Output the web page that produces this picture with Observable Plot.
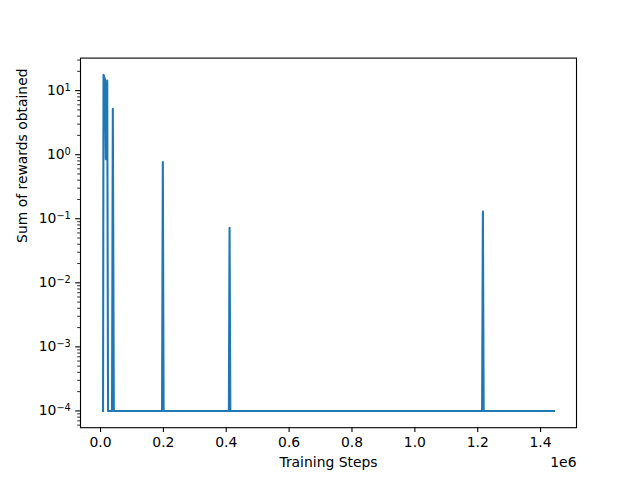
<!DOCTYPE html>
<html><head><meta charset="utf-8">
<script src="https://cdn.jsdelivr.net/npm/d3@7"></script>
<script src="https://cdn.jsdelivr.net/npm/@observablehq/plot@0.6"></script>
<style>body{margin:0;background:#fff} svg{display:block}</style>
</head><body><div id="chart"></div>
<script>
// Training step at each logged point
const steps = [8000, 9500, 14300, 16900, 21300, 23900, 36600, 39100, 42300,
  195700, 198200, 200700, 408300, 410500, 413000, 1214000, 1216500, 1219000, 1442600];
// Sum of rewards obtained at each logged point
const rewards = [1e-4, 17.6, 15, 0.85, 14.4, 1e-4, 1e-4, 5.2, 1e-4,
  1e-4, 0.77, 1e-4, 1e-4, 0.072, 1e-4, 1e-4, 0.13, 1e-4, 1e-4];
const xTicks = [0, 200000, 400000, 600000, 800000, 1000000, 1200000, 1400000];
const yTicks = [1e-4, 1e-3, 1e-2, 1e-1, 1, 10];
const xLabel = "Training Steps";
const yLabel = "Sum of rewards obtained";
const xOffsetText = "1e6";

const data = steps.map((s, i) => ({step: s, reward: rewards[i]}));
const yDomain = [5.47e-5, 32.2];
const yMinor = [];
for (let k = -5; k <= 1; k++) for (let m = 2; m <= 9; m++) {
  const v = m * Math.pow(10, k);
  if (v >= yDomain[0] && v <= yDomain[1]) yMinor.push(v);
}
const font = "DejaVu Sans, sans-serif";
const fs = 13.9;

const svg = Plot.plot({
  width: 640, height: 480,
  marginLeft: 80, marginRight: 64, marginTop: 57.6, marginBottom: 52.8,
  style: {fontFamily: font, fontSize: fs + "px", background: "#fff", color: "#000"},
  x: {domain: [-63730, 1514330]},
  y: {type: "log", domain: yDomain},
  marks: [
    Plot.line(data, {x: "step", y: "reward", stroke: "#1f77b4", strokeWidth: 2.08, strokeLinejoin: "round", strokeLinecap: "square"}),
    Plot.frame({stroke: "#000", strokeWidth: 1.1}),
    Plot.axisX({ticks: xTicks, tickSize: 4.86, tickPadding: 4.86, strokeWidth: 1.1, label: null,
      tickFormat: d => (d / 1e6).toFixed(1), fontSize: fs}),
    Plot.axisY({ticks: yMinor, tickSize: 2.78, strokeWidth: 0.83, text: null, label: null}),
    Plot.axisY({ticks: yTicks, tickSize: 4.86, tickPadding: 4.86, strokeWidth: 1.1, label: null,
      tickFormat: d => "10^" + Math.round(Math.log10(d)), fontSize: fs}),
    Plot.text([xLabel], {frameAnchor: "bottom", dy: 35, lineAnchor: "middle", fontSize: fs, fill: "#000"}),
    Plot.text([xOffsetText], {frameAnchor: "bottom-right", dy: 35, textAnchor: "end", lineAnchor: "middle", fontSize: fs, fill: "#000"}),
    Plot.text([yLabel], {frameAnchor: "left", dx: -58, rotate: -90, lineAnchor: "middle", fontSize: fs, fill: "#000"})
  ]
});

d3.select(svg).selectAll('g[aria-label="y-axis tick label"] text').each(function() {
  const t = d3.select(this);
  const s = t.text();
  if (!s.includes("^")) return;
  const e = s.split("^")[1].replace("-", "\u2212");
  t.text(null);
  t.append("tspan").text("10");
  t.append("tspan").attr("dy", "-0.45em").attr("font-size", "0.7em").text(e);
});
document.getElementById("chart").appendChild(svg);
</script>
</body></html>
